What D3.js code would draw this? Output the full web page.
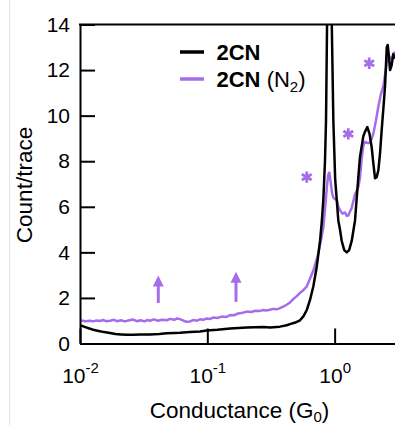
<!DOCTYPE html>
<html>
<head>
<meta charset="utf-8">
<script src="https://cdn.jsdelivr.net/npm/d3@7"></script>
<style>
body { margin: 0; background: #fff; }
text { font-family: "Liberation Sans", Arial, sans-serif; }
</style>
</head>
<body>
<svg id="chart"></svg>
<script>
// conductance (G0) and counts per trace
const blackG = [0.0100,0.0110,0.0120,0.0127,0.0140,0.0155,0.0172,0.0190,0.0210,0.0233,0.0262,0.0300,0.0355,0.0420,0.0480,0.0550,0.0610,0.0731,0.0876,0.0989,0.120,0.151,0.204,0.275,0.311,0.372,0.420,0.446,0.490,0.535,0.570,0.604,0.640,0.680,0.724,0.768,0.792,0.815,0.840,0.856,0.872,0.890,0.910,0.930,0.950,0.977,1.010,1.069,1.102,1.137,1.190,1.245,1.300,1.362,1.446,1.492,1.540,1.583,1.681,1.733,1.807,1.880,1.956,2.014,2.077,2.140,2.205,2.274,2.344,2.414,2.489,2.567,2.612,2.670,2.724,2.800,2.892,2.980];
const blackV = [0.80,0.72,0.65,0.60,0.55,0.50,0.46,0.42,0.40,0.38,0.38,0.39,0.40,0.42,0.45,0.46,0.47,0.50,0.53,0.57,0.60,0.66,0.70,0.72,0.70,0.74,0.80,0.85,0.92,1.02,1.20,1.47,1.90,2.50,3.37,4.50,5.30,6.30,8.00,9.80,14.0,16.5,17.5,16.5,14.0,9.8,7.2,5.4,5.0,4.5,4.1,4.0,4.1,4.5,5.4,6.4,7.4,8.2,9.1,9.3,9.5,9.2,8.6,7.9,7.25,7.3,7.6,8.35,9.4,10.3,11.3,13.0,13.1,12.6,12.0,12.2,12.7,12.5];

const purpleG = [0.0100,0.0110,0.0120,0.0127,0.0135,0.0143,0.0152,0.0160,0.0172,0.0185,0.0195,0.0210,0.0225,0.0240,0.0262,0.0280,0.0300,0.0320,0.0340,0.0355,0.0380,0.0410,0.0440,0.0480,0.0510,0.0550,0.0580,0.0610,0.0650,0.0690,0.0731,0.0780,0.0830,0.0876,0.0930,0.0989,0.105,0.112,0.120,0.130,0.140,0.151,0.162,0.175,0.190,0.204,0.220,0.240,0.260,0.275,0.290,0.311,0.330,0.350,0.372,0.395,0.420,0.446,0.480,0.510,0.535,0.570,0.604,0.641,0.680,0.724,0.745,0.768,0.792,0.815,0.840,0.870,0.890,0.909,0.930,0.955,0.977,1.000,1.039,1.070,1.102,1.150,1.207,1.245,1.281,1.310,1.362,1.410,1.446,1.492,1.540,1.583,1.630,1.681,1.733,1.807,1.897,1.956,2.014,2.114,2.205,2.300,2.414,2.520,2.567,2.650,2.724,2.800,2.892,2.980];
const purpleV = [1.02,0.98,1.00,0.97,1.01,0.99,1.03,0.98,1.00,1.04,0.98,1.02,0.97,1.01,1.05,0.98,1.02,0.97,1.03,1.00,1.06,1.00,1.04,1.02,1.08,1.04,1.10,1.07,1.00,0.95,0.97,1.03,1.00,1.06,1.04,1.10,1.08,1.14,1.12,1.18,1.16,1.25,1.24,1.32,1.35,1.40,1.38,1.44,1.43,1.47,1.45,1.48,1.52,1.50,1.55,1.62,1.70,1.80,1.98,2.10,2.22,2.35,2.50,2.85,3.20,3.70,3.95,4.35,4.70,5.10,5.90,6.90,7.40,7.50,7.10,6.60,6.40,6.35,6.30,6.00,5.85,5.70,5.75,5.60,5.62,5.75,5.95,6.30,6.55,6.70,6.90,7.30,8.10,8.70,8.85,8.80,8.80,9.00,9.20,9.80,10.4,10.9,11.3,12.0,12.3,12.5,12.55,12.5,12.7,12.8];

const yTicks = [0, 2, 4, 6, 8, 10, 12, 14];
const xTicks = [0.01, 0.1, 1];
const xTickExp = ["-2", "-1", "0"];

const starG = [0.604, 1.28, 1.87];
const starV = [7.3, 9.2, 12.3];
const arrowG = [0.0412, 0.168];
const arrowFrom = [1.78, 1.83];
const arrowTo = [2.98, 3.15];

const purple = "#a66dea";
const W = 395, H = 425;
const mLeft = 80, mTop = 24.5, mRight = 395, mBottom = 343.5;

let svg = d3.select("#chart").attr("width", W).attr("height", H);

// faint frame line at the left of the figure
svg.append("line")
    .attr("x1", 9.5).attr("x2", 9.5).attr("y1", 0).attr("y2", H)
    .attr("stroke", "#e4e4e4").attr("stroke-width", 1);

let x = d3.scaleLog().domain([0.01, 2.98]).range([mLeft, mRight]);
let y = d3.scaleLinear().domain([0, 14]).range([mBottom, mTop]);

svg.append("clipPath").attr("id", "clip")
    .append("rect")
    .attr("x", mLeft).attr("y", mTop)
    .attr("width", mRight - mLeft).attr("height", mBottom - mTop);

let line = d3.line()
    .x(function (d) { return x(d[0]); })
    .y(function (d) { return y(d[1]); });

let plot = svg.append("g").attr("clip-path", "url(#clip)");

plot.append("path")
    .datum(purpleG.map(function (g, i) { return [g, purpleV[i]]; }))
    .attr("d", line)
    .attr("fill", "none")
    .attr("stroke", purple)
    .attr("stroke-width", 2.5)
    .attr("stroke-linejoin", "round");

plot.append("path")
    .datum(blackG.map(function (g, i) { return [g, blackV[i]]; }))
    .attr("d", line)
    .attr("fill", "none")
    .attr("stroke", "#000")
    .attr("stroke-width", 2.5)
    .attr("stroke-linejoin", "round");

// axes
let yAxis = svg.append("g")
    .attr("transform", "translate(" + mLeft + ",0)")
    .call(d3.axisLeft(y).tickValues(yTicks).tickSize(-15).tickSizeOuter(0).tickPadding(10));

let xAxis = svg.append("g")
    .attr("transform", "translate(0," + mBottom + ")")
    .call(d3.axisBottom(x).tickValues(xTicks).tickSize(-15).tickSizeOuter(0).tickFormat(""));

[yAxis, xAxis].forEach(function (a) {
    a.select(".domain").attr("stroke", "#000").attr("stroke-width", 2);
    a.selectAll(".tick line").attr("stroke", "#000").attr("stroke-width", 2);
});
yAxis.selectAll(".tick text")
    .attr("font-size", 21).attr("fill", "#000")
    .attr("font-family", "Liberation Sans, Arial, sans-serif");

xAxis.selectAll(".tick text").remove();
xAxis.selectAll(".tick").each(function (d, i) {
    let t = d3.select(this).append("text")
        .attr("y", 39)
        .attr("x", 0)
        .attr("text-anchor", "middle")
        .attr("fill", "#000")
        .attr("font-size", 21)
        .attr("font-family", "Liberation Sans, Arial, sans-serif");
    t.append("tspan").text("10");
    t.append("tspan").attr("font-size", 15).attr("dy", -10).text(xTickExp[i]);
});

// top frame line
svg.append("line")
    .attr("x1", mLeft - 1).attr("x2", mRight)
    .attr("y1", mTop).attr("y2", mTop)
    .attr("stroke", "#000").attr("stroke-width", 2);

// axis titles
let xt = svg.append("text")
    .attr("x", 239.5).attr("y", 418)
    .attr("text-anchor", "middle")
    .attr("font-size", 22.5);
xt.append("tspan").text("Conductance (G");
xt.append("tspan").attr("font-size", 15).attr("dy", 4).text("0");
xt.append("tspan").attr("dy", -4).text(")");

svg.append("text")
    .attr("transform", "translate(32,185) rotate(-90)")
    .attr("text-anchor", "middle")
    .attr("font-size", 22.5)
    .text("Count/trace");

// legend
svg.append("line")
    .attr("x1", 180).attr("x2", 204).attr("y1", 52).attr("y2", 52)
    .attr("stroke", "#000").attr("stroke-width", 3.5);
svg.append("line")
    .attr("x1", 180).attr("x2", 204).attr("y1", 79).attr("y2", 79)
    .attr("stroke", purple).attr("stroke-width", 3.5);
svg.append("text")
    .attr("x", 216.5).attr("y", 60)
    .attr("font-size", 22).attr("font-weight", "bold")
    .text("2CN");
let lg = svg.append("text")
    .attr("x", 216.5).attr("y", 87)
    .attr("font-size", 22);
lg.append("tspan").attr("font-weight", "bold").text("2CN");
lg.append("tspan").text(" (N");
lg.append("tspan").attr("font-size", 15).attr("dy", 5).text("2");
lg.append("tspan").attr("dy", -5).text(")");

// asterisks marking peaks
svg.selectAll(".star")
    .data(starG)
    .enter().append("path")
    .attr("class", "star")
    .attr("transform", function (d, i) {
        return "translate(" + x(d) + "," + y(starV[i]) + ")";
    })
    .attr("d", d3.symbol(d3.symbolAsterisk, 90))
    .attr("fill", "none")
    .attr("stroke", purple)
    .attr("stroke-width", 2.8);

// arrows
arrowG.forEach(function (g, i) {
    let ax = x(g), y0 = y(arrowFrom[i]), y1 = y(arrowTo[i]);
    svg.append("line")
        .attr("x1", ax).attr("x2", ax)
        .attr("y1", y0).attr("y2", y1 + 8)
        .attr("stroke", purple).attr("stroke-width", 3);
    svg.append("path")
        .attr("d", "M" + ax + "," + y1 + "L" + (ax + 5.5) + "," + (y1 + 11) + "L" + (ax - 5.5) + "," + (y1 + 11) + "Z")
        .attr("fill", purple);
});
</script>
</body>
</html>
